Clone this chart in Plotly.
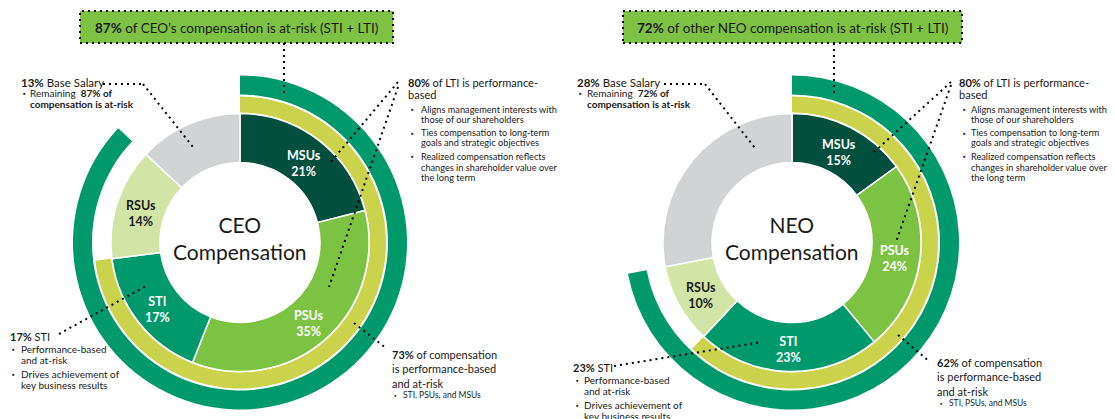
import math
import plotly.graph_objects as go

W, H = 1115, 419
OFF = 8                      # default page margin of the html body
WF, HF = W - OFF, H - OFF    # figure size

# ---------------- data ----------------
slices = ["MSUs", "PSUs", "STI", "RSUs", "Base Salary"]
ceo_values = [21, 35, 17, 14, 13]
neo_values = [15, 24, 23, 10, 28]
ceo_at_risk = 87          # STI + LTI
neo_at_risk = 72
ceo_perf_based = 73       # STI + PSUs + MSUs
neo_perf_based = 62
centre_titles = ["CEO<br>Compensation", "NEO<br>Compensation"]
box_titles = ["<b>87%</b> of CEO’s compensation is at-risk (STI + LTI)",
              "<b>72%</b> of other NEO compensation is at-risk (STI + LTI)"]

# ---------------- style ----------------
slice_colors = ["#024f3d", "#7cc243", "#00996b", "#d3e5a6", "#d1d3d4"]
label_colors = ["white", "white", "white", "#1a1a1a", None]
RING_GREEN = "#00996b"
RING_YELLOW = "#cbd34c"
BOX_GREEN = "#7dc242"
TXT = "#1a1a1a"
FONT = "Lato, 'Open Sans', sans-serif"

R_MAX = 170
HOLE, DONUT_OUT = 80, 129
Y_IN, Y_OUT = 130, 146
G_IN, G_OUT = 148, 167
centres = [(240, 242.5), (792, 242.5)]

fig = go.Figure()


def px_x(x):
    return (x - OFF) / WF


def px_y(y):
    return 1 - (y - OFF) / HF


def add_ring(subplot, values, base, outer, colors, line_w):
    cum = 0
    thetas, widths = [], []
    for v in values:
        thetas.append((cum + v / 2) * 3.6)
        widths.append(v * 3.6)
        cum += v
    fig.add_trace(go.Barpolar(
        r=[outer - base] * len(values), base=[base] * len(values),
        theta=thetas, width=widths,
        marker=dict(color=colors, line=dict(color="white", width=line_w)),
        subplot=subplot, showlegend=False, hoverinfo="skip"))


def txt(x, y, s, size=11, color=TXT, anchor="left", family=FONT):
    fig.add_annotation(x=px_x(x), y=px_y(y), xref="paper", yref="paper",
                       text=s, showarrow=False, xanchor=anchor,
                       yanchor="middle", borderpad=0,
                       font=dict(size=size, color=color, family=family))


def dots(x0, y0, x1, y1):
    fig.add_shape(type="line", xref="paper", yref="paper",
                  x0=px_x(x0), y0=px_y(y0), x1=px_x(x1), y1=px_y(y1),
                  line=dict(color="black", width=2, dash="2px,4px"))


datasets = [
    (ceo_values, ceo_at_risk, ceo_perf_based),
    (neo_values, neo_at_risk, neo_perf_based),
]

for i, (vals, at_risk, perf) in enumerate(datasets):
    sp = "polar" if i == 0 else "polar2"
    add_ring(sp, [at_risk], G_IN, G_OUT, [RING_GREEN], 0)
    add_ring(sp, [perf], Y_IN, Y_OUT, [RING_YELLOW], 0)
    add_ring(sp, vals, HOLE, DONUT_OUT, slice_colors, 1.5)

    cx, cy = centres[i]
    cum = 0
    for name, v, lc in zip(slices, vals, label_colors):
        mid = math.radians((cum + v / 2) * 3.6)
        cum += v
        if lc is None:
            continue
        r = 104
        lx = cx + r * math.sin(mid)
        ly = cy - r * math.cos(mid)
        txt(lx, ly + 3, f"<b>{name}<br>{v}%</b>", size=12.5, color=lc, anchor="center")
    txt(cx, cy - 5, centre_titles[i], size=21, anchor="center")

polar_common = dict(
    bgcolor="rgba(0,0,0,0)", hole=0, barmode="overlay", bargap=0,
    radialaxis=dict(range=[0, R_MAX], visible=False),
    angularaxis=dict(rotation=90, direction="clockwise", visible=False),
)
layouts = {}
for i, (cx, cy) in enumerate(centres):
    key = "polar" if i == 0 else "polar2"
    layouts[key] = dict(
        domain=dict(x=[px_x(cx - R_MAX), px_x(cx + R_MAX)],
                    y=[px_y(cy + R_MAX), px_y(cy - R_MAX)]),
        **polar_common)

fig.update_layout(
    width=WF, height=HF, margin=dict(l=0, r=0, t=0, b=0),
    paper_bgcolor="white", plot_bgcolor="white",
    font=dict(family=FONT, color=TXT), **layouts)

# ---------------- title boxes ----------------
for (x0, x1), t in zip([(80, 393), (623, 962)], box_titles):
    fig.add_shape(type="rect", xref="paper", yref="paper",
                  x0=px_x(x0), x1=px_x(x1), y0=px_y(43), y1=px_y(11),
                  fillcolor=BOX_GREEN,
                  line=dict(color="black", width=2, dash="2px,4px"), layer="below")
    txt((x0 + x1) / 2, 28, t, size=13.5, anchor="center")

BUL = "▪"


def base_block(x, bx, tx, pct, rem):
    txt(x, 82, f"<b>{pct}%</b> Base Salary", size=11.5)
    txt(bx, 93, BUL, size=7)
    txt(tx, 93, f"Remaining  <b>{rem}% of</b>", size=10)
    txt(tx, 104, "<b>compensation is at-risk</b>", size=10)


def lti_block(x, bx, tx):
    txt(x, 82, "<b>80%</b> of LTI is performance-", size=11)
    txt(x, 95, "based", size=11)
    for lines, ys in [(["Aligns management interests with", "those of our shareholders"], [109, 119]),
                      (["Ties compensation to long-term", "goals and strategic objectives"], [133, 143]),
                      (["Realized compensation reflects", "changes in shareholder value over", "the long term"], [156, 167, 178])]:
        txt(bx, ys[0], BUL, size=7)
        for l, y in zip(lines, ys):
            txt(tx, y, l, size=9.2)


def sti_block(x, y, bx, tx, pct):
    txt(x, y, f"<b>{pct}%</b> STI", size=11)
    txt(bx, y + 13, BUL, size=7)
    txt(tx, y + 13, "Performance-based", size=10)
    txt(tx, y + 24, "and at-risk", size=10)
    txt(bx, y + 38, BUL, size=7)
    txt(tx, y + 38, "Drives achievement of", size=10)
    txt(tx, y + 49, "key business results", size=10)


def perf_block(x, y, bx, tx, pct):
    txt(x, y, f"<b>{pct}%</b> of compensation", size=11)
    txt(x, y + 14, "is performance-based", size=11)
    txt(x, y + 29, "and at-risk", size=11)
    txt(bx, y + 41, BUL, size=6)
    txt(tx, y + 41, "STI, PSUs, and MSUs", size=8.5)


base_block(20, 22, 29, 13, ceo_at_risk)
base_block(576, 578, 586, 28, neo_at_risk)
lti_block(407, 410, 420)
lti_block(958, 962, 970)
sti_block(9, 336, 11, 20, ceo_values[2])
sti_block(572, 367, 575, 583, neo_values[2])
perf_block(391, 354, 393, 402, ceo_perf_based)
perf_block(936, 362, 939, 948, neo_perf_based)

# ---------------- leader lines ----------------
for seg in [(284, 43, 284, 93), (103, 84, 143, 84), (143, 84, 193, 147),
            (398, 82, 330, 163), (398, 87, 329, 287), (59, 334, 146, 286),
            (354, 323, 386, 348),
            (834, 43, 834, 93), (664, 84, 705, 84), (705, 84, 755, 148),
            (951, 82, 873, 153), (951, 85, 896, 242), (614, 366, 762, 342),
            (898, 335, 930, 362)]:
    dots(*seg)

fig.write_html("out.html")
